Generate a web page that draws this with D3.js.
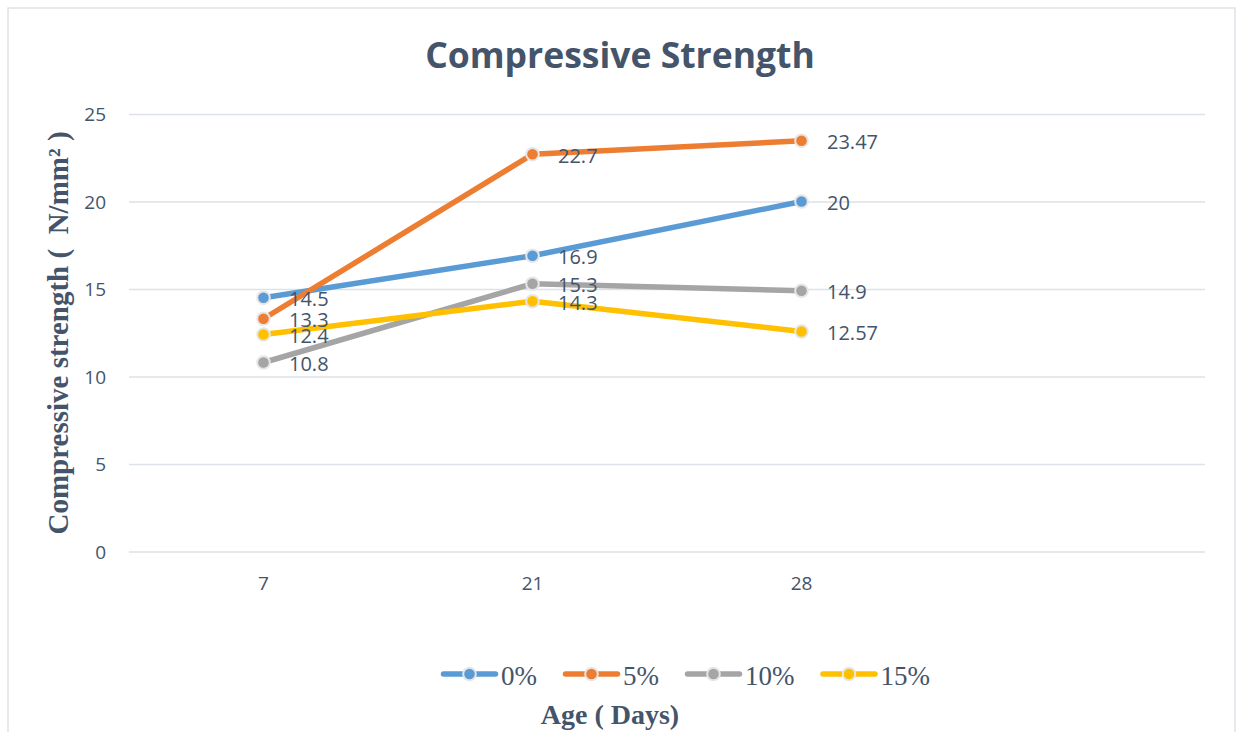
<!DOCTYPE html>
<html>
<head>
<meta charset="utf-8">
<script src="https://cdn.jsdelivr.net/npm/d3@7/dist/d3.min.js"></script>
<style>
  html, body { margin: 0; padding: 0; background: #fff; }
  svg { display: block; }
</style>
</head>
<body>
<svg id="chart" width="1241" height="732"></svg>
<script>
// ---- data ----
const categories = ["7", "21", "28", ""];
const seriesNames = ["0%", "5%", "10%", "15%"];
const seriesColors = ["#5b9bd5", "#ed7d31", "#a5a5a5", "#ffc000"];
const values0 = [14.5, 16.9, 20];
const values5 = [13.3, 22.7, 23.47];
const values10 = [10.8, 15.3, 14.9];
const values15 = [12.4, 14.3, 12.57];
const yTicks = [0, 5, 10, 15, 20, 25];
const titleText = "Compressive Strength";
const yTitle = "Compressive strength (  N/mm\u00B2 )";
const xTitle = "Age ( Days)";

const seriesValues = [values0, values5, values10, values15];
const series = seriesNames.map((name, i) => ({
  name, color: seriesColors[i],
  points: seriesValues[i].map((v, j) => ({ cat: categories[j], v }))
}));

// ---- layout ----
const W = 1241, H = 732;
const plot = { left: 129, right: 1205, top: 114, bottom: 551.5 };
const textColor = "#44546a";
const gridColor = "#dde2e8";

const svg = d3.select("#chart");
svg.append("rect").attr("width", W).attr("height", H).attr("fill", "#fff");
svg.append("rect").attr("x", 8).attr("y", 8).attr("width", 1227).attr("height", 760)
  .attr("fill", "none").attr("stroke", "#dfe3e8").attr("stroke-width", 1.5);

const x = d3.scaleBand().domain(categories).range([plot.left, plot.right]).padding(0);
const y = d3.scaleLinear().domain([0, 25]).range([plot.bottom, plot.top]);
const cx = c => x(c) + x.bandwidth() / 2;

// gridlines
const yAxis = d3.axisLeft(y).tickValues(yTicks).tickSize(-(plot.right - plot.left)).tickPadding(23);
const gy = svg.append("g").attr("transform", `translate(${plot.left},0)`).call(yAxis);
gy.select(".domain").remove();
gy.selectAll(".tick line").attr("stroke", gridColor).attr("stroke-width", 1.5);
gy.selectAll(".tick text").attr("fill", textColor)
  .style("font-family", "'Open Sans', sans-serif").style("font-size", "19px")
  .attr("dy", "0.36em");

// x axis labels
const xAxis = d3.axisBottom(x).tickSize(0).tickPadding(0).tickFormat(d => d);
const gx = svg.append("g").attr("transform", `translate(0,${plot.bottom})`).call(xAxis);
gx.select(".domain").remove();
gx.selectAll(".tick text").attr("fill", textColor)
  .style("font-family", "'Open Sans', sans-serif").style("font-size", "19px")
  .attr("y", 38.5).attr("dy", 0);

// lines
const line = d3.line().x(d => cx(d.cat)).y(d => y(d.v));
series.forEach(s => {
  svg.append("path").datum(s.points).attr("d", line)
    .attr("fill", "none").attr("stroke", s.color).attr("stroke-width", 5.5)
    .attr("stroke-linejoin", "round").attr("stroke-linecap", "round");
  svg.selectAll(null).data(s.points).enter().append("circle")
    .attr("cx", d => cx(d.cat)).attr("cy", d => y(d.v)).attr("r", 6.3)
    .attr("fill", s.color).attr("stroke", "#e6e6e6").attr("stroke-width", 2);
});

// data labels
series.forEach(s => {
  svg.selectAll(null).data(s.points).enter().append("text")
    .attr("x", d => cx(d.cat) + 25.5).attr("y", d => y(d.v) + 8.5)
    .attr("fill", textColor)
    .style("font-family", "'Open Sans', sans-serif").style("font-size", "20px")
    .text(d => d.v);
});

// title
svg.append("text").attr("x", 620).attr("y", 68).attr("text-anchor", "middle")
  .attr("fill", textColor)
  .style("font-family", "'Open Sans', sans-serif").style("font-weight", "bold").style("font-size", "35.5px")
  .text(titleText);

// y title
svg.append("text").attr("transform", "translate(68,333) rotate(-90)")
  .attr("text-anchor", "middle").attr("fill", textColor)
  .style("font-family", "'Liberation Serif', 'Times New Roman', serif").style("font-weight", "bold")
  .style("font-size", "29px").style("white-space", "pre")
  .text(yTitle);

// x title
svg.append("text").attr("x", 610).attr("y", 723.5).attr("text-anchor", "middle")
  .attr("fill", textColor)
  .style("font-family", "'Liberation Serif', 'Times New Roman', serif").style("font-weight", "bold")
  .style("font-size", "28px").style("white-space", "pre")
  .text(xTitle);

// legend
const legend = svg.append("g");
let lx = 441;
const ly = 674;
series.forEach(s => {
  const g = legend.append("g");
  g.append("line").attr("x1", lx + 2.5).attr("x2", lx + 54.5).attr("y1", ly).attr("y2", ly)
    .attr("stroke", s.color).attr("stroke-width", 5.5).attr("stroke-linecap", "round");
  g.append("circle").attr("cx", lx + 28.5).attr("cy", ly).attr("r", 6.3)
    .attr("fill", s.color).attr("stroke", "#e6e6e6").attr("stroke-width", 2);
  const t = g.append("text").attr("x", lx + 60).attr("y", ly + 10.5).attr("fill", textColor)
    .style("font-family", "'Liberation Serif', 'Times New Roman', serif").style("font-size", "27px")
    .text(s.name);
  lx += 60 + t.node().getComputedTextLength() + 26;
});
</script>
</body>
</html>
